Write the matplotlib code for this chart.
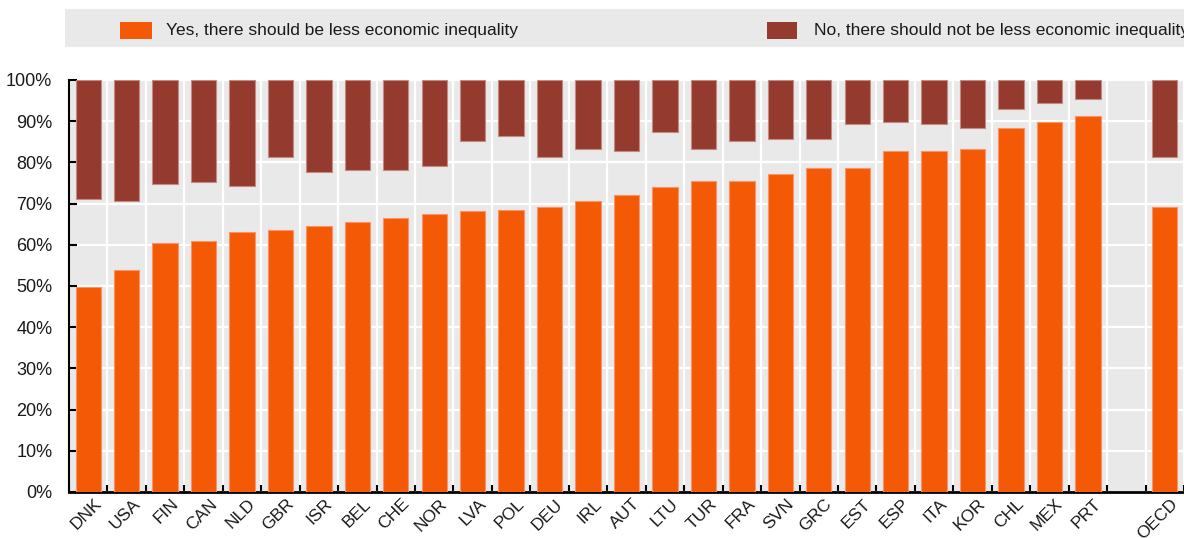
import numpy as np
import matplotlib
matplotlib.use("Agg")
import matplotlib.pyplot as plt
from matplotlib.patches import Rectangle
from matplotlib.transforms import ScaledTranslation

plt.rcParams['font.family'] = ['Liberation Sans', 'DejaVu Sans']

# share of respondents, in %
countries = ['DNK', 'USA', 'FIN', 'CAN', 'NLD', 'GBR', 'ISR', 'BEL', 'CHE', 'NOR',
             'LVA', 'POL', 'DEU', 'IRL', 'AUT', 'LTU', 'TUR', 'FRA', 'SVN', 'GRC',
             'EST', 'ESP', 'ITA', 'KOR', 'CHL', 'MEX', 'PRT']
yes_less = [49.8, 54.0, 60.5, 61.0, 63.0, 63.5, 64.5, 65.6, 66.5, 67.5,
            68.1, 68.5, 69.1, 70.6, 72.1, 74.1, 75.6, 75.6, 77.2, 78.7,
            78.7, 82.7, 82.7, 83.2, 88.3, 89.8, 91.3]
no_less = [28.9, 29.4, 25.3, 24.8, 25.8, 18.7, 22.3, 21.8, 21.8, 20.8,
           14.7, 13.7, 18.7, 16.8, 17.3, 12.7, 16.8, 14.7, 14.3, 14.3,
           10.6, 10.2, 10.6, 11.7, 7.1, 5.6, 4.6]
oecd_yes = 69.1
oecd_no = 18.7

yes_label = 'Yes, there should be less economic inequality'
no_label = 'No, there should not be less economic inequality'

ORANGE = '#f45905'
ORANGE_EDGE = '#f8936a'
RED = '#953a2f'
RED_EDGE = '#c48a83'
BG = '#e9e9e9'
TXT = '#1a1a1a'

W, H = 1184, 538
fig = plt.figure(figsize=(W / 100, H / 100), dpi=100)

# axes box in pixels: left 69, bottom at y=492, top at y=80, runs off the right edge
ax = fig.add_axes([69 / W, 1 - 492 / H, 1 - 69 / W, (492 - 80) / H])
ax.set_facecolor(BG)

labels = countries + ['OECD']
x = np.append(np.arange(len(countries)), len(countries) + 1)
yes_all = np.array(yes_less + [oecd_yes])
no_all = np.array(no_less + [oecd_no])

bw = 0.66
ax.bar(x, yes_all, width=bw, color=ORANGE, edgecolor=ORANGE_EDGE, linewidth=0.8, zorder=3)
ax.bar(x, no_all, bottom=100 - no_all, width=bw, color=RED, edgecolor=RED_EDGE,
       linewidth=0.8, zorder=3)

ax.set_xlim(-0.5, -0.5 + (W - 69) / 38.85)
ax.set_ylim(0, 100)

# y axis
ax.set_yticks(np.arange(0, 101, 10))
ax.set_yticklabels([f'{v}%' for v in range(0, 101, 10)], fontsize=13, color=TXT)
ax.tick_params(axis='y', direction='in', length=6, width=1.5, pad=12)

# x axis: labels at bar centres, tick marks between slots
ax.set_xticks(x)
ax.set_xticklabels(labels, rotation=45, ha='right', rotation_mode='anchor',
                   fontsize=12.5, color=TXT)
ax.tick_params(axis='x', which='major', length=0, pad=3)
off = ScaledTranslation(4 / 72, 0, fig.dpi_scale_trans)
for lab in ax.get_xticklabels():
    lab.set_transform(lab.get_transform() + off)
ax.set_xticks(np.arange(-0.5, len(countries) + 2, 1), minor=True)
ax.tick_params(axis='x', which='minor', direction='in', length=5, width=1.5)

ax.grid(axis='y', which='major', color='white', linewidth=1.6, zorder=0)
ax.grid(axis='x', which='minor', color='white', linewidth=1.6, zorder=0)
ax.grid(axis='x', which='major', visible=False)
ax.set_axisbelow(True)

for side in ['top', 'right']:
    ax.spines[side].set_visible(False)
ax.spines['left'].set_linewidth(1.5)
ax.spines['bottom'].set_linewidth(2)

# legend band across the top
fig.patches.append(Rectangle((65 / W, 1 - 47 / H), 1 - 65 / W, 38 / H,
                             transform=fig.transFigure, facecolor=BG, edgecolor='none'))
fig.patches.append(Rectangle((120 / W, 1 - 39 / H), 32 / W, 17 / H,
                             transform=fig.transFigure, facecolor=ORANGE, edgecolor='none'))
fig.text(166 / W, 1 - 31 / H, yes_label, fontsize=12.5, va='center', ha='left', color=TXT)
fig.patches.append(Rectangle((767 / W, 1 - 39 / H), 30 / W, 17 / H,
                             transform=fig.transFigure, facecolor=RED, edgecolor='none'))
fig.text(814 / W, 1 - 31 / H, no_label, fontsize=12.5, va='center', ha='left', color=TXT)

fig.savefig('out.png', dpi=100)
